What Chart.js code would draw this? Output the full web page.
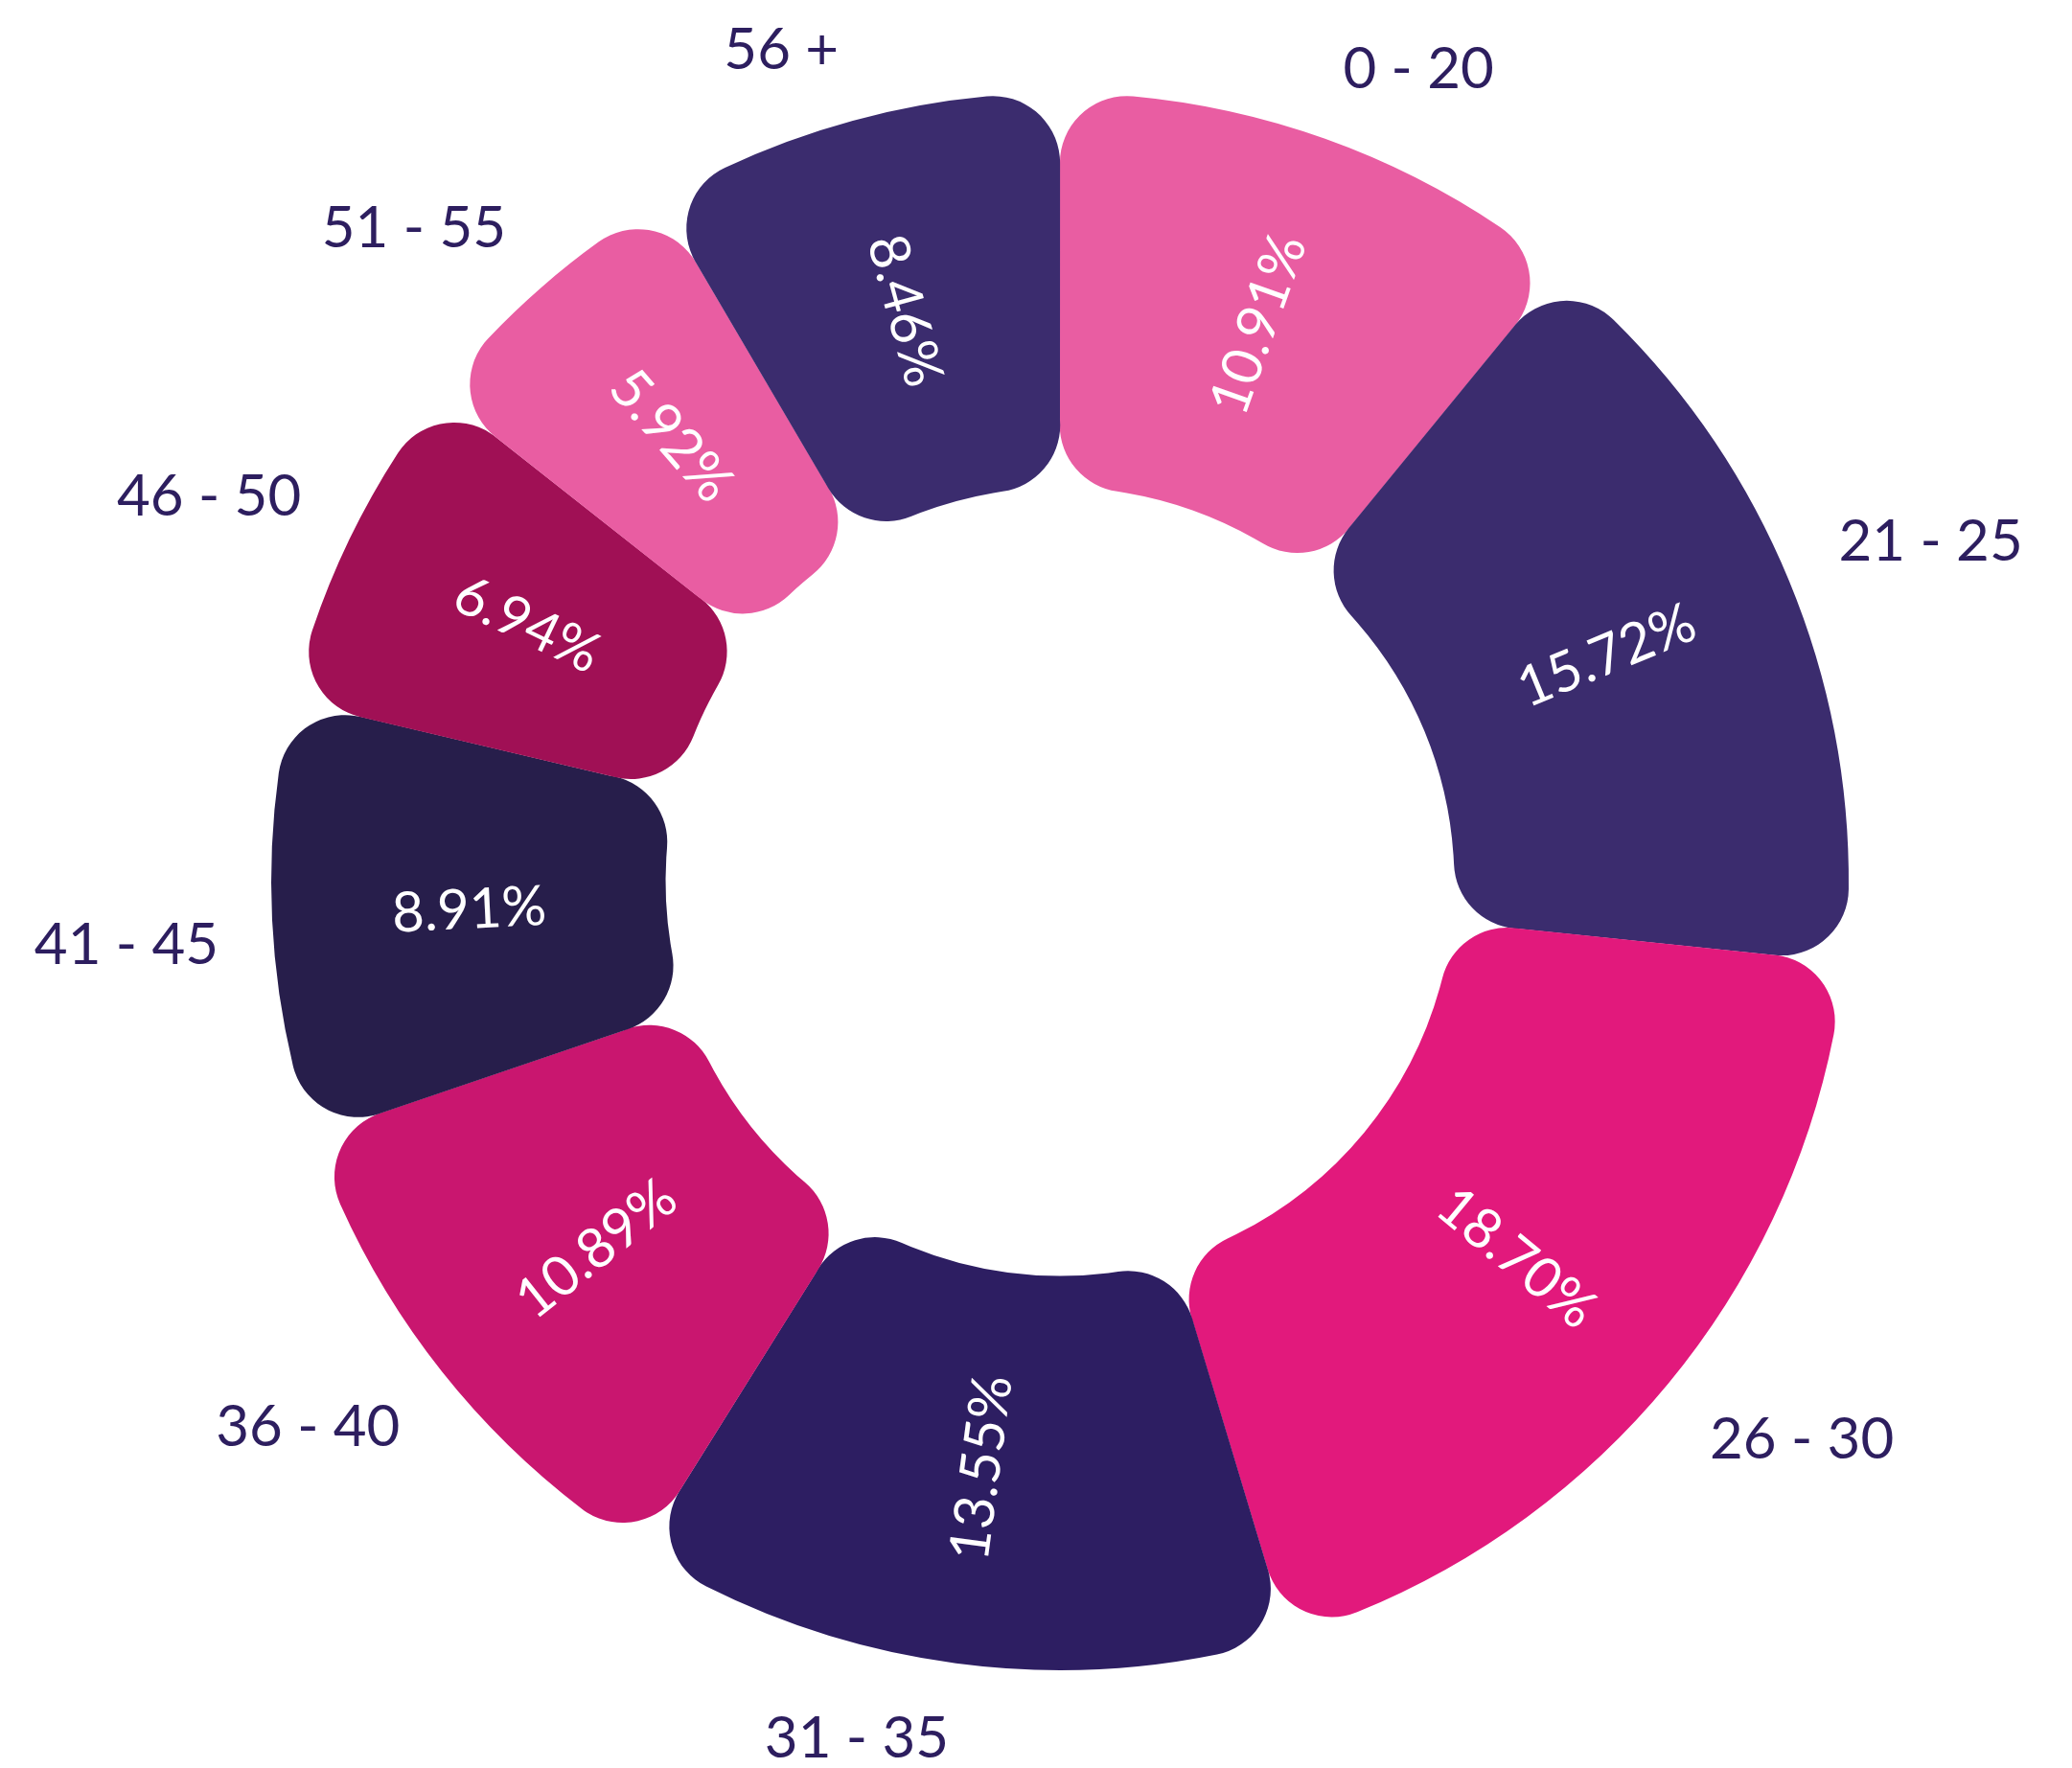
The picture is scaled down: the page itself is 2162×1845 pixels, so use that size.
<!DOCTYPE html>
<html>
<head>
<meta charset="utf-8">
<script src="https://cdn.jsdelivr.net/npm/chart.js@4.4.1/dist/chart.umd.min.js"></script>
<style>
    html, body { margin: 0; padding: 0; background: #ffffff; }
    #wrap { width: 2162px; height: 1845px; position: relative; }
</style>
</head>
<body>
<div id="wrap"><canvas id="ageChart"></canvas></div>
<script>
// Age groups, clockwise from 12 o'clock
const ageGroups = ['0 - 20', '21 - 25', '26 - 30', '31 - 35', '36 - 40', '41 - 45', '46 - 50', '51 - 55', '56 +'];
const shares = [10.91, 15.72, 18.70, 13.55, 10.89, 8.91, 6.94, 5.92, 8.46];
const sliceColors = ['#E95DA2', '#3B2C6E', '#E2197C', '#2D1E62', '#C9166F', '#271E4B', '#A01055', '#E95DA2', '#3B2C6E'];

const FONT = 'Lato, "Open Sans", sans-serif';

// Draws the percentages inside the ring and the age groups outside it
const sliceLabels = {
    id: 'sliceLabels',
    afterDatasetsDraw(chart) {
        const ctx = chart.ctx;
        const arcs = chart.getDatasetMeta(0).data;
        ctx.save();
        arcs.forEach((arc, i) => {
            const p = arc.getProps(['x', 'y', 'startAngle', 'endAngle', 'innerRadius', 'outerRadius'], true);
            const mid = (p.startAngle + p.endAngle) / 2;
            const cos = Math.cos(mid);
            const sin = Math.sin(mid);

            // value text, along the radius
            const r = (p.innerRadius + p.outerRadius) / 2;
            let rot = mid;
            while (rot > Math.PI / 2) rot -= Math.PI;
            while (rot < -Math.PI / 2) rot += Math.PI;
            ctx.save();
            ctx.translate(p.x + cos * r, p.y + sin * r);
            ctx.rotate(rot);
            ctx.font = '58px ' + FONT;
            ctx.fillStyle = '#ffffff';
            ctx.textAlign = 'center';
            ctx.textBaseline = 'middle';
            ctx.fillText(shares[i].toFixed(2) + '%', 0, 0);
            ctx.restore();

            // category text outside: anchored by its nearest corner
            ctx.font = '60px ' + FONT;
            const ax = p.x + cos * (p.outerRadius + 56);
            const ay = p.y + sin * (p.outerRadius + 56);
            const capH = ctx.measureText('0').actualBoundingBoxAscent;
            ctx.fillStyle = '#2D1E5F';
            ctx.textAlign = cos >= 0 ? 'left' : 'right';
            ctx.textBaseline = 'alphabetic';
            ctx.fillText(ageGroups[i], ax, sin < 0 ? ay : ay + capH);
        });
        ctx.restore();
    }
};

const ctx = document.getElementById('ageChart').getContext('2d');
new Chart(ctx, {
    type: 'doughnut',
    data: {
        labels: ageGroups,
        datasets: [{
            data: shares,
            backgroundColor: sliceColors,
            borderWidth: 0,
            borderRadius: 70,
            spacing: 0
        }]
    },
    options: {
        responsive: true,
        maintainAspectRatio: false,
        animation: false,
        cutout: '50%',
        layout: {
            padding: { left: 283, right: 233, top: 97, bottom: 102 }
        },
        plugins: {
            legend: { display: false },
            tooltip: { enabled: false }
        }
    },
    plugins: [sliceLabels]
});
</script>
</body>
</html>
